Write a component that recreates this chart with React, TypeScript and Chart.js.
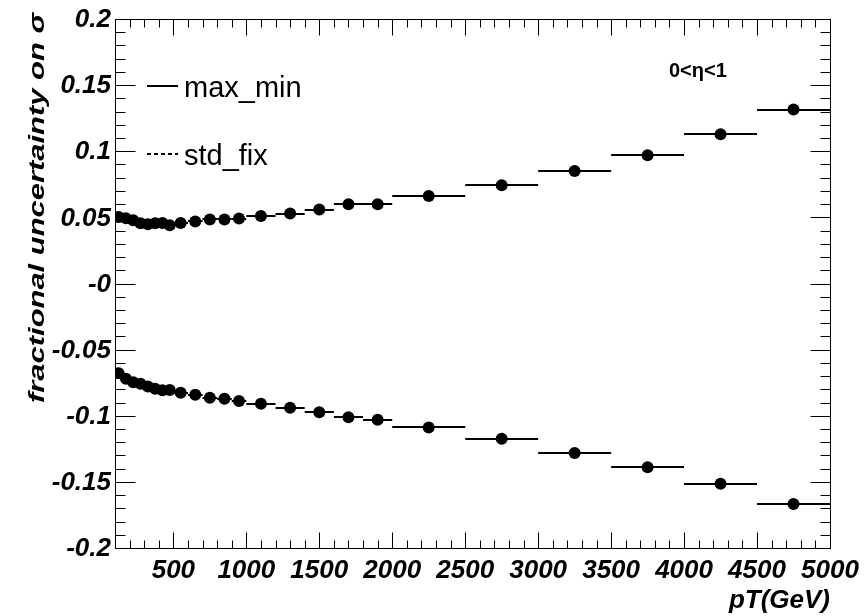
import React, { useEffect, useRef } from "react";
import { Chart, registerables } from "chart.js";

Chart.register(...registerables);

// pT bin edges (GeV)
const binEdges = [100, 150, 200, 250, 300, 350, 400, 450, 500, 600, 700, 800, 900, 1000, 1200, 1400, 1600, 1800, 2000, 2500, 3000, 3500, 4000, 4500, 5000];

// fractional uncertainty, upward variation
const upperValues = [0.0503, 0.0494, 0.0478, 0.0456, 0.0448, 0.0456, 0.0458, 0.0441, 0.0458, 0.0469, 0.0484, 0.0484, 0.0491, 0.0511, 0.0529, 0.0559, 0.06, 0.06, 0.0662, 0.0743, 0.085, 0.097, 0.1129, 0.1315];

// fractional uncertainty, downward variation
const lowerValues = [-0.0678, -0.072, -0.0746, -0.0758, -0.0778, -0.0796, -0.0808, -0.0805, -0.0826, -0.0841, -0.0864, -0.0871, -0.0889, -0.0909, -0.0939, -0.0973, -0.1011, -0.103, -0.1088, -0.1174, -0.1281, -0.1389, -0.1515, -0.1667];

const xTickValues = [500, 1000, 1500, 2000, 2500, 3000, 3500, 4000, 4500, 5000];
const xTickLabels = ["500", "1000", "1500", "2000", "2500", "3000", "3500", "4000", "4500", "5000"];
const yTickValues = [0.2, 0.15, 0.1, 0.05, 0, -0.05, -0.1, -0.15, -0.2];
const yTickLabels = ["0.2", "0.15", "0.1", "0.05", "-0", "-0.05", "-0.1", "-0.15", "-0.2"];
const legendLabels = ["max_min", "std_fix"];
const xTitle = "pT(GeV)";
const yTitle = "fractional uncertainty on σ";
const regionLabel = "0<η<1";

const X_MIN = 100;
const X_MAX = 5000;
const Y_MIN = -0.2;
const Y_MAX = 0.2;

const binCenters = binEdges.slice(0, -1).map((e, i) => (e + binEdges[i + 1]) / 2);

const BOLD_ITALIC = (s: number) => `italic bold ${s}px "Liberation Sans", Arial, sans-serif`;

const rootPlugin = {
  id: "rootStyle",
  beforeDatasetsDraw(chart: any) {
    const { ctx, scales } = chart;
    const x = scales.x;
    const y = scales.y;
    ctx.save();
    ctx.strokeStyle = "#000";
    ctx.lineWidth = 2;
    [upperValues, lowerValues].forEach((vals) => {
      vals.forEach((v, i) => {
        const py = Math.round(y.getPixelForValue(v));
        ctx.beginPath();
        ctx.moveTo(x.getPixelForValue(binEdges[i]), py);
        ctx.lineTo(x.getPixelForValue(binEdges[i + 1]), py);
        ctx.stroke();
      });
    });
    ctx.restore();
  },
  afterDraw(chart: any) {
    const { ctx, chartArea, scales } = chart;
    const x = scales.x;
    const y = scales.y;
    const { left, right, top, bottom } = chartArea;
    ctx.save();
    // frame
    ctx.strokeStyle = "#000";
    ctx.lineWidth = 1;
    ctx.strokeRect(Math.round(left) + 0.5, Math.round(top) + 0.5, Math.round(right - left), Math.round(bottom - top));

    // x ticks
    const b = Math.round(bottom) + 0.5;
    const t = Math.round(top) + 0.5;
    for (let v = 200; v <= X_MAX; v += 100) {
      const major = v % 500 === 0;
      const len = major ? 16 : 8;
      const px = Math.round(x.getPixelForValue(v)) + 0.5;
      ctx.beginPath();
      ctx.moveTo(px, b);
      ctx.lineTo(px, b - len);
      ctx.moveTo(px, t);
      ctx.lineTo(px, t + len);
      ctx.stroke();
    }
    // y ticks
    const l = Math.round(left) + 0.5;
    const r = Math.round(right) + 0.5;
    for (let k = -19; k <= 19; k++) {
      const v = k / 100;
      const major = k % 5 === 0;
      const len = major ? 20 : 10;
      const py = Math.round(y.getPixelForValue(v)) + 0.5;
      ctx.beginPath();
      ctx.moveTo(l, py);
      ctx.lineTo(l + len, py);
      ctx.moveTo(r, py);
      ctx.lineTo(r - len, py);
      ctx.stroke();
    }

    ctx.fillStyle = "#000";
    // x tick labels
    ctx.font = BOLD_ITALIC(26);
    ctx.textAlign = "center";
    ctx.textBaseline = "alphabetic";
    xTickValues.forEach((v, i) => {
      ctx.fillText(xTickLabels[i], x.getPixelForValue(v), bottom + 30);
    });
    // y tick labels
    ctx.textAlign = "right";
    ctx.textBaseline = "middle";
    yTickValues.forEach((v, i) => {
      ctx.fillText(yTickLabels[i], left - 4, y.getPixelForValue(v) + 1);
    });

    // x title
    ctx.textAlign = "right";
    ctx.textBaseline = "alphabetic";
    ctx.font = BOLD_ITALIC(26);
    ctx.fillText(xTitle, right, bottom + 60);

    // y title (rotated, stretched along its length)
    ctx.save();
    ctx.font = BOLD_ITALIC(22);
    const w = ctx.measureText(yTitle).width;
    const targetLen = 390;
    ctx.translate(44, 13);
    ctx.rotate(-Math.PI / 2);
    ctx.scale(targetLen / w, 1);
    ctx.textAlign = "right";
    ctx.textBaseline = "alphabetic";
    ctx.fillText(yTitle, 0, 0);
    ctx.restore();

    // legend
    ctx.lineWidth = 2;
    ctx.beginPath();
    ctx.moveTo(147, 86);
    ctx.lineTo(178, 86);
    ctx.stroke();
    ctx.save();
    ctx.setLineDash([4, 3]);
    ctx.beginPath();
    ctx.moveTo(147, 154);
    ctx.lineTo(178, 154);
    ctx.stroke();
    ctx.restore();
    ctx.font = '29px "Liberation Sans", Arial, sans-serif';
    ctx.textAlign = "left";
    ctx.textBaseline = "alphabetic";
    ctx.fillText(legendLabels[0], 184, 97);
    ctx.fillText(legendLabels[1], 184, 165);

    // region label
    ctx.font = 'bold 20px "Liberation Sans", Arial, sans-serif';
    ctx.fillText(regionLabel, 669, 77);

    ctx.restore();
  },
};

export default function App() {
  const ref = useRef<HTMLCanvasElement | null>(null);
  useEffect(() => {
    if (!ref.current) return;
    const chart = new Chart(ref.current, {
      type: "scatter",
      data: {
        datasets: [
          {
            label: "up",
            data: binCenters.map((c, i) => ({ x: c, y: upperValues[i] })),
            pointRadius: 6,
            pointHoverRadius: 6,
            pointBackgroundColor: "#000",
            pointBorderColor: "#000",
            pointBorderWidth: 0,
            showLine: false,
          },
          {
            label: "down",
            data: binCenters.map((c, i) => ({ x: c, y: lowerValues[i] })),
            pointRadius: 6,
            pointHoverRadius: 6,
            pointBackgroundColor: "#000",
            pointBorderColor: "#000",
            pointBorderWidth: 0,
            showLine: false,
          },
        ],
      },
      options: {
        responsive: false,
        animation: false,
        devicePixelRatio: 1,
        layout: { padding: { left: 115, top: 19, right: 35, bottom: 68 } },
        plugins: { legend: { display: false }, tooltip: { enabled: false } },
        scales: {
          x: { type: "linear", min: X_MIN, max: X_MAX, display: false },
          y: { type: "linear", min: Y_MIN, max: Y_MAX, display: false },
        },
      },
      plugins: [rootPlugin],
    });
    return () => chart.destroy();
  }, []);
  return (
    <div style={{ position: "fixed", left: 0, top: 0, width: 865, height: 616, background: "#fff" }}>
      <canvas ref={ref} width={865} height={616} style={{ width: 865, height: 616, display: "block" }} />
    </div>
  );
}
